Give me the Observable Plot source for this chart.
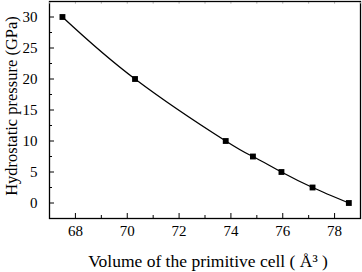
<!DOCTYPE html>
<html><head><meta charset="utf-8">
<script src="https://cdn.jsdelivr.net/npm/d3@7"></script>
<script src="https://cdn.jsdelivr.net/npm/@observablehq/plot@0.6"></script>
<style>
body{margin:0;background:#fff;}
svg, svg text{font-family:"Liberation Serif","DejaVu Serif",serif !important;}
</style>
</head><body><div id="chart"></div>
<script>
const volume = [67.5, 70.3, 73.8, 74.85, 75.95, 77.15, 78.55];
const pressure = [30, 20, 10, 7.5, 5, 2.5, 0];
const xMajor = [68, 70, 72, 74, 76, 78];
const xMinor = [67, 69, 71, 73, 75, 77, 79];
const yMajor = [0, 5, 10, 15, 20, 25, 30];
const yMinor = [-2.5, 2.5, 7.5, 12.5, 17.5, 22.5, 27.5, 32.5];
const xTop = [67,68,69,70,71,72,73,74,75,76,77,78,79];

const data = volume.map((v, i) => ({v, p: pressure[i]}));
const serif = "'Liberation Serif', serif";

const chart = Plot.plot({
  width: 362, height: 272,
  marginLeft: 49, marginRight: 2, marginTop: 1, marginBottom: 54,
  style: {fontFamily: serif, fontSize: "15px", color: "#000", background: "#fff"},
  x: {domain: [67, 79]},
  y: {domain: [-2.5, 32.5]},
  marks: [
    Plot.frame({stroke: "#000", strokeWidth: 1.3}),
    Plot.axisX({ticks: xMajor, tickSize: -5, text: null, label: null}),
    Plot.axisX({ticks: xMinor, tickSize: -3, text: null, label: null}),
    Plot.axisX({anchor: "top", ticks: xTop, tickSize: -1.5, text: null, label: null, stroke: "#999"}),
    Plot.axisY({ticks: yMajor, tickSize: -5, text: null, label: null}),
    Plot.axisY({ticks: yMinor, tickSize: -3, text: null, label: null}),
    Plot.text(xMajor, {x: d => d, frameAnchor: "bottom", dy: 17, fontSize: 15, fontFamily: serif, text: d => String(d)}),
    Plot.text(yMajor, {y: d => d, frameAnchor: "left", textAnchor: "end", dx: -12, fontSize: 15, fontFamily: serif, text: d => String(d)}),
    Plot.line(data, {x: "v", y: "p", curve: "natural", stroke: "#000", strokeWidth: 1.3}),
    Plot.dot(data, {x: "v", y: "p", symbol: "square", r: 3.3, fill: "#000"}),
    Plot.text(["Volume of the primitive cell ( Å\u00B3 )"], {frameAnchor: "bottom", dy: 48, dx: 3, fontSize: 17.5, fontFamily: serif, text: d => d}),
    Plot.text(["Hydrostatic pressure (GPa)"], {frameAnchor: "left", textAnchor: "middle", dx: -38, dy: -4, rotate: -90, fontSize: 16.5, fontFamily: serif, text: d => d})
  ]
});
document.getElementById("chart").appendChild(chart);
</script>
</body></html>
